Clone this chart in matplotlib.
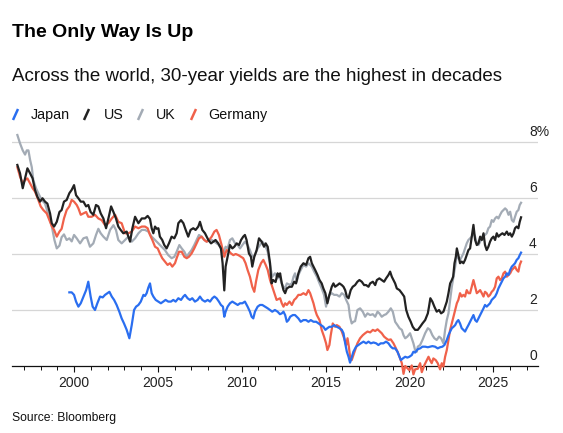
import matplotlib
matplotlib.use("Agg")
import matplotlib.pyplot as plt
from matplotlib.lines import Line2D

plt.rcParams['font.family'] = ['Liberation Sans', 'DejaVu Sans']

# 30-year government bond yields (%)
japan = [
    (1999.72, 2.63), (1999.86, 2.63), (2000.00, 2.54), (2000.12, 2.30), (2000.26, 2.12),
    (2000.40, 2.24), (2000.56, 2.48), (2000.72, 2.71), (2000.85, 3.01), (2000.99, 2.48),
    (2001.11, 2.12), (2001.25, 2.00), (2001.39, 2.24), (2001.55, 2.48), (2001.71, 2.45),
    (2001.85, 2.54), (2001.99, 2.60), (2002.11, 2.65), (2002.25, 2.48), (2002.39, 2.36),
    (2002.54, 2.18), (2002.70, 1.94), (2002.84, 1.70), (2002.98, 1.52), (2003.14, 1.29),
    (2003.30, 0.99), (2003.44, 1.46), (2003.58, 2.00), (2003.70, 2.12), (2003.84, 2.18),
    (2003.98, 2.30), (2004.14, 2.54), (2004.23, 2.50), (2004.33, 2.60), (2004.43, 2.80),
    (2004.53, 2.95), (2004.63, 2.60), (2004.73, 2.48), (2004.87, 2.36), (2005.03, 2.30),
    (2005.18, 2.24), (2005.32, 2.30), (2005.46, 2.36), (2005.62, 2.30), (2005.78, 2.30),
    (2005.92, 2.36), (2006.06, 2.30), (2006.22, 2.42), (2006.38, 2.36), (2006.52, 2.48),
    (2006.62, 2.54), (2006.77, 2.42), (2006.91, 2.36), (2007.05, 2.42), (2007.21, 2.30),
    (2007.37, 2.36), (2007.51, 2.48), (2007.65, 2.36), (2007.81, 2.30), (2007.97, 2.36),
    (2008.11, 2.30), (2008.25, 2.42), (2008.37, 2.48), (2008.50, 2.42), (2008.64, 2.30),
    (2008.76, 2.18), (2008.88, 2.12), (2008.96, 1.76), (2009.04, 1.94), (2009.16, 2.12),
    (2009.30, 2.24), (2009.44, 2.30), (2009.60, 2.24), (2009.76, 2.18), (2009.90, 2.24),
    (2010.04, 2.24), (2010.19, 2.30), (2010.35, 2.12), (2010.49, 1.94), (2010.59, 1.76),
    (2010.69, 1.70), (2010.79, 1.94), (2010.95, 2.12), (2011.09, 2.18), (2011.23, 2.18),
    (2011.39, 2.12), (2011.55, 2.06), (2011.69, 2.00), (2011.82, 1.94), (2011.98, 2.00),
    (2012.14, 1.94), (2012.28, 1.85), (2012.39, 1.88), (2012.49, 1.94), (2012.59, 1.82),
    (2012.69, 1.58), (2012.79, 1.64), (2012.89, 1.76), (2013.05, 1.82), (2013.18, 1.82),
    (2013.28, 1.76), (2013.38, 1.70), (2013.52, 1.58), (2013.68, 1.64), (2013.84, 1.64),
    (2013.98, 1.58), (2014.12, 1.64), (2014.28, 1.58), (2014.44, 1.58), (2014.58, 1.52),
    (2014.72, 1.46), (2014.87, 1.40), (2014.99, 1.29), (2015.11, 1.35), (2015.23, 1.40),
    (2015.37, 1.40), (2015.51, 1.46), (2015.67, 1.40), (2015.83, 1.35), (2015.97, 1.29),
    (2016.07, 1.17), (2016.17, 0.81), (2016.27, 0.51), (2016.37, 0.33), (2016.46, 0.12),
    (2016.54, 0.27), (2016.66, 0.51), (2016.82, 0.69), (2016.96, 0.75), (2017.10, 0.81),
    (2017.26, 0.87), (2017.42, 0.81), (2017.56, 0.87), (2017.70, 0.81), (2017.86, 0.84),
    (2018.02, 0.81), (2018.15, 0.75), (2018.29, 0.81), (2018.45, 0.81), (2018.61, 0.87),
    (2018.75, 0.81), (2018.89, 0.69), (2019.01, 0.63), (2019.15, 0.63), (2019.29, 0.51),
    (2019.41, 0.33), (2019.49, 0.21), (2019.61, 0.27), (2019.75, 0.33), (2019.88, 0.30),
    (2020.00, 0.33), (2020.14, 0.39), (2020.24, 0.51), (2020.34, 0.48), (2020.50, 0.60),
    (2020.64, 0.63), (2020.78, 0.69), (2020.94, 0.69), (2021.10, 0.67), (2021.23, 0.69),
    (2021.37, 0.71), (2021.53, 0.69), (2021.69, 0.63), (2021.83, 0.67), (2021.97, 0.69),
    (2022.09, 0.75), (2022.23, 0.93), (2022.33, 1.10), (2022.43, 1.23), (2022.53, 1.35),
    (2022.63, 1.40), (2022.73, 1.46), (2022.83, 1.58), (2022.92, 1.64), (2023.02, 1.52),
    (2023.12, 1.35), (2023.22, 1.29), (2023.32, 1.23), (2023.42, 1.35), (2023.52, 1.46),
    (2023.62, 1.58), (2023.72, 1.70), (2023.82, 1.82), (2023.92, 1.64), (2024.02, 1.58),
    (2024.12, 1.70), (2024.22, 1.82), (2024.32, 1.94), (2024.42, 2.06), (2024.51, 2.18),
    (2024.61, 2.12), (2024.71, 2.18), (2024.81, 2.24), (2024.91, 2.36), (2025.01, 2.42),
    (2025.11, 2.48), (2025.21, 2.60), (2025.31, 2.77), (2025.41, 2.89), (2025.51, 3.01),
    (2025.61, 3.13), (2025.71, 3.19), (2025.81, 3.31), (2025.91, 3.25), (2026.01, 3.43),
    (2026.11, 3.55), (2026.21, 3.61), (2026.30, 3.67), (2026.40, 3.79), (2026.50, 3.85),
    (2026.58, 3.96), (2026.66, 4.05),
]

us = [
    (1996.62, 7.18), (1996.78, 6.88), (1996.94, 6.35), (1997.08, 6.70), (1997.22, 7.06),
    (1997.38, 6.88), (1997.53, 6.70), (1997.67, 6.29), (1997.81, 6.05), (1997.97, 5.87),
    (1998.12, 5.99), (1998.27, 5.87), (1998.41, 5.80), (1998.57, 5.45), (1998.67, 5.10),
    (1998.81, 4.98), (1998.97, 5.15), (1999.13, 5.50), (1999.26, 5.57), (1999.40, 5.87),
    (1999.56, 5.93), (1999.72, 6.17), (1999.86, 6.29), (2000.00, 6.46), (2000.12, 6.10),
    (2000.26, 5.99), (2000.40, 5.87), (2000.56, 5.87), (2000.72, 5.70), (2000.85, 5.75),
    (2000.99, 5.50), (2001.15, 5.40), (2001.31, 5.75), (2001.45, 5.70), (2001.59, 5.45),
    (2001.75, 5.27), (2001.91, 4.92), (2002.05, 5.27), (2002.21, 5.70), (2002.35, 5.50),
    (2002.50, 5.27), (2002.64, 4.98), (2002.78, 4.86), (2002.94, 4.74), (2003.14, 4.80),
    (2003.34, 4.44), (2003.48, 4.92), (2003.64, 5.33), (2003.84, 5.10), (2004.04, 5.27),
    (2004.23, 5.27), (2004.39, 5.36), (2004.53, 5.25), (2004.63, 4.92), (2004.73, 4.74),
    (2004.83, 4.98), (2004.93, 4.90), (2005.03, 4.92), (2005.12, 4.62), (2005.26, 4.50),
    (2005.38, 4.32), (2005.52, 4.20), (2005.66, 4.38), (2005.82, 4.62), (2005.98, 4.56),
    (2006.12, 4.74), (2006.22, 5.10), (2006.38, 5.21), (2006.52, 5.10), (2006.66, 4.86),
    (2006.81, 4.62), (2006.95, 4.86), (2007.11, 4.92), (2007.25, 4.86), (2007.41, 4.98),
    (2007.51, 5.15), (2007.65, 4.86), (2007.81, 4.74), (2008.01, 4.50), (2008.17, 4.38),
    (2008.31, 4.44), (2008.44, 4.50), (2008.60, 4.38), (2008.76, 4.20), (2008.86, 3.67),
    (2008.96, 2.70), (2009.04, 3.55), (2009.16, 3.90), (2009.30, 4.32), (2009.44, 4.20),
    (2009.56, 4.26), (2009.70, 4.38), (2009.84, 4.32), (2009.96, 4.50), (2010.09, 4.62),
    (2010.19, 4.68), (2010.29, 4.50), (2010.43, 4.02), (2010.55, 3.90), (2010.63, 3.55),
    (2010.75, 3.90), (2010.89, 4.14), (2011.03, 4.56), (2011.19, 4.44), (2011.33, 4.26),
    (2011.43, 4.38), (2011.55, 4.26), (2011.69, 3.67), (2011.78, 2.95), (2011.88, 3.07),
    (2012.02, 3.00), (2012.14, 3.31), (2012.22, 3.19), (2012.29, 3.31), (2012.39, 2.95),
    (2012.49, 2.71), (2012.59, 2.60), (2012.69, 2.77), (2012.85, 2.83), (2012.99, 2.83),
    (2013.13, 3.01), (2013.24, 2.95), (2013.38, 3.31), (2013.52, 3.55), (2013.68, 3.67),
    (2013.84, 3.61), (2013.98, 3.85), (2014.08, 3.90), (2014.18, 3.67), (2014.28, 3.55),
    (2014.38, 3.43), (2014.52, 3.25), (2014.64, 3.07), (2014.77, 2.95), (2014.87, 2.77),
    (2014.99, 2.60), (2015.11, 2.24), (2015.23, 2.54), (2015.37, 2.83), (2015.47, 2.95),
    (2015.57, 2.83), (2015.71, 2.89), (2015.83, 2.95), (2015.97, 2.89), (2016.07, 2.83),
    (2016.17, 2.71), (2016.27, 2.48), (2016.37, 2.42), (2016.50, 2.71), (2016.62, 2.83),
    (2016.76, 2.89), (2016.90, 3.01), (2017.02, 3.07), (2017.16, 3.01), (2017.30, 2.89),
    (2017.42, 2.89), (2017.56, 2.83), (2017.66, 2.95), (2017.82, 3.01), (2017.96, 2.89),
    (2018.06, 3.07), (2018.21, 3.13), (2018.35, 3.07), (2018.49, 3.01), (2018.61, 3.13),
    (2018.75, 3.25), (2018.85, 3.37), (2018.95, 3.19), (2019.05, 3.07), (2019.15, 2.95),
    (2019.25, 2.77), (2019.41, 2.71), (2019.55, 2.60), (2019.69, 2.48), (2019.81, 2.00),
    (2019.94, 1.76), (2020.08, 1.58), (2020.20, 1.40), (2020.34, 1.29), (2020.50, 1.29),
    (2020.64, 1.40), (2020.78, 1.52), (2020.94, 1.64), (2021.10, 1.88), (2021.17, 2.12),
    (2021.25, 2.42), (2021.37, 2.30), (2021.49, 2.12), (2021.63, 1.94), (2021.77, 2.00),
    (2021.89, 1.88), (2022.03, 1.94), (2022.13, 2.12), (2022.23, 2.30), (2022.33, 2.60),
    (2022.43, 2.95), (2022.53, 3.07), (2022.61, 3.19), (2022.69, 3.67), (2022.77, 3.90),
    (2022.83, 4.20), (2022.92, 3.96), (2023.02, 3.67), (2023.12, 3.73), (2023.22, 3.67),
    (2023.32, 3.79), (2023.42, 3.96), (2023.52, 4.14), (2023.62, 4.20), (2023.72, 4.62),
    (2023.82, 5.04), (2023.92, 4.50), (2024.02, 4.32), (2024.12, 4.38), (2024.22, 4.62),
    (2024.32, 4.50), (2024.42, 4.74), (2024.51, 4.32), (2024.61, 4.14), (2024.71, 4.26),
    (2024.81, 4.44), (2024.91, 4.56), (2025.01, 4.62), (2025.11, 4.50), (2025.21, 4.74),
    (2025.31, 4.62), (2025.41, 4.68), (2025.55, 4.74), (2025.67, 4.68), (2025.81, 4.80),
    (2025.91, 4.68), (2026.01, 4.74), (2026.11, 4.62), (2026.21, 4.74), (2026.30, 4.92),
    (2026.40, 4.98), (2026.50, 4.92), (2026.58, 5.15), (2026.66, 5.31),
]

uk = [
    (1996.62, 8.25), (1996.78, 7.95), (1996.94, 7.70), (1997.08, 7.55), (1997.18, 7.70),
    (1997.28, 7.70), (1997.38, 7.36), (1997.48, 7.10), (1997.57, 6.64), (1997.73, 6.35),
    (1997.87, 6.17), (1998.07, 5.93), (1998.27, 5.80), (1998.47, 5.40), (1998.67, 5.00),
    (1998.83, 4.50), (1998.97, 4.20), (1999.13, 4.30), (1999.26, 4.60), (1999.40, 4.70),
    (1999.56, 4.50), (1999.72, 4.56), (1999.86, 4.45), (2000.00, 4.68), (2000.16, 4.56),
    (2000.36, 4.38), (2000.56, 4.56), (2000.76, 4.60), (2000.95, 4.26), (2001.15, 4.38),
    (2001.31, 4.68), (2001.45, 4.90), (2001.59, 4.74), (2001.75, 4.62), (2001.95, 4.50),
    (2002.15, 4.86), (2002.35, 5.03), (2002.50, 4.86), (2002.64, 4.50), (2002.84, 4.38),
    (2003.04, 4.50), (2003.24, 4.62), (2003.44, 4.44), (2003.64, 4.56), (2003.84, 4.74),
    (2004.04, 4.86), (2004.23, 4.86), (2004.43, 4.80), (2004.63, 4.62), (2004.83, 4.50),
    (2005.03, 4.38), (2005.22, 4.26), (2005.42, 4.14), (2005.62, 3.96), (2005.82, 3.85),
    (2005.98, 3.90), (2006.12, 4.08), (2006.28, 4.32), (2006.42, 4.20), (2006.58, 4.08),
    (2006.72, 3.90), (2006.85, 4.02), (2007.01, 4.14), (2007.17, 4.32), (2007.31, 4.50),
    (2007.45, 4.68), (2007.61, 4.62), (2007.77, 4.50), (2007.91, 4.44), (2008.05, 4.50),
    (2008.21, 4.50), (2008.37, 4.44), (2008.50, 4.38), (2008.64, 4.32), (2008.76, 4.20),
    (2008.90, 4.02), (2009.04, 4.26), (2009.16, 4.20), (2009.30, 4.50), (2009.44, 4.56),
    (2009.60, 4.38), (2009.76, 4.32), (2009.90, 4.20), (2010.04, 4.32), (2010.19, 4.44),
    (2010.35, 4.32), (2010.49, 4.14), (2010.63, 3.90), (2010.79, 3.96), (2010.95, 4.20),
    (2011.09, 4.32), (2011.23, 4.44), (2011.39, 4.32), (2011.55, 4.08), (2011.69, 3.60),
    (2011.82, 3.19), (2011.98, 3.31), (2012.14, 3.13), (2012.22, 3.19), (2012.29, 3.13),
    (2012.39, 2.95), (2012.49, 2.83), (2012.59, 2.77), (2012.69, 2.95), (2012.85, 2.90),
    (2012.99, 2.95), (2013.09, 3.19), (2013.18, 3.31), (2013.28, 3.01), (2013.38, 3.25),
    (2013.52, 3.43), (2013.68, 3.61), (2013.84, 3.55), (2013.98, 3.67), (2014.08, 3.61),
    (2014.18, 3.55), (2014.32, 3.37), (2014.48, 3.19), (2014.64, 2.95), (2014.77, 2.77),
    (2014.91, 2.54), (2015.03, 2.12), (2015.11, 2.36), (2015.23, 2.54), (2015.37, 2.60),
    (2015.51, 2.54), (2015.67, 2.54), (2015.83, 2.48), (2015.97, 2.60), (2016.11, 2.54),
    (2016.23, 2.36), (2016.37, 2.18), (2016.46, 1.76), (2016.56, 1.52), (2016.66, 1.58),
    (2016.76, 1.60), (2016.90, 2.00), (2017.06, 2.06), (2017.22, 1.94), (2017.36, 1.76),
    (2017.50, 1.88), (2017.66, 1.82), (2017.82, 1.85), (2017.96, 1.76), (2018.10, 1.94),
    (2018.21, 1.88), (2018.35, 1.76), (2018.49, 1.82), (2018.61, 1.85), (2018.75, 1.94),
    (2018.89, 2.06), (2019.01, 1.94), (2019.15, 1.58), (2019.29, 1.46), (2019.41, 1.35),
    (2019.55, 1.29), (2019.65, 1.10), (2019.75, 0.99), (2019.88, 1.05), (2020.04, 1.17),
    (2020.14, 0.99), (2020.24, 0.81), (2020.34, 0.57), (2020.44, 0.51), (2020.50, 0.69),
    (2020.64, 0.75), (2020.78, 0.93), (2020.94, 1.17), (2021.10, 1.35), (2021.23, 1.29),
    (2021.37, 1.10), (2021.49, 0.99), (2021.63, 0.93), (2021.77, 1.05), (2021.89, 0.99),
    (2022.03, 0.81), (2022.13, 1.29), (2022.23, 1.64), (2022.33, 1.88), (2022.43, 2.36),
    (2022.53, 2.83), (2022.63, 3.19), (2022.73, 3.55), (2022.83, 3.96), (2022.92, 3.85),
    (2023.02, 3.79), (2023.12, 3.90), (2023.22, 4.02), (2023.32, 4.20), (2023.42, 4.38),
    (2023.52, 4.50), (2023.62, 4.56), (2023.72, 4.62), (2023.82, 4.74), (2023.92, 4.62),
    (2024.02, 4.38), (2024.12, 4.32), (2024.22, 4.44), (2024.32, 4.56), (2024.42, 4.62),
    (2024.51, 4.68), (2024.61, 4.74), (2024.71, 4.92), (2024.81, 4.98), (2024.91, 5.21),
    (2025.01, 5.15), (2025.11, 5.27), (2025.21, 5.33), (2025.31, 5.27), (2025.41, 5.40),
    (2025.51, 5.51), (2025.61, 5.57), (2025.71, 5.63), (2025.81, 5.57), (2025.91, 5.40),
    (2026.01, 5.51), (2026.11, 5.21), (2026.21, 5.15), (2026.30, 5.33), (2026.40, 5.51),
    (2026.50, 5.57), (2026.58, 5.75), (2026.66, 5.83),
]

germany = [
    (1996.62, 7.10), (1996.78, 6.76), (1996.94, 6.52), (1997.08, 6.64), (1997.22, 6.70),
    (1997.38, 6.52), (1997.53, 6.35), (1997.67, 6.23), (1997.87, 5.93), (1998.01, 5.70),
    (1998.17, 5.57), (1998.37, 5.45), (1998.53, 5.21), (1998.67, 5.00), (1998.81, 4.86),
    (1998.97, 4.62), (1999.13, 4.80), (1999.26, 4.90), (1999.40, 5.27), (1999.56, 5.57),
    (1999.72, 5.70), (1999.86, 5.93), (2000.00, 5.87), (2000.16, 5.75), (2000.26, 5.63),
    (2000.40, 5.40), (2000.56, 5.45), (2000.72, 5.50), (2000.85, 5.33), (2001.05, 5.33),
    (2001.25, 5.40), (2001.45, 5.27), (2001.65, 5.21), (2001.85, 5.03), (2002.05, 5.10),
    (2002.25, 5.27), (2002.45, 5.40), (2002.64, 5.15), (2002.84, 5.10), (2003.04, 4.74),
    (2003.24, 4.74), (2003.44, 4.80), (2003.64, 4.98), (2003.84, 4.92), (2004.04, 4.98),
    (2004.23, 4.98), (2004.39, 4.92), (2004.53, 4.68), (2004.67, 4.50), (2004.83, 4.26),
    (2004.99, 4.20), (2005.12, 4.02), (2005.26, 3.85), (2005.42, 3.73), (2005.58, 3.61),
    (2005.72, 3.67), (2005.86, 3.55), (2006.02, 3.67), (2006.12, 3.85), (2006.26, 4.08),
    (2006.42, 4.08), (2006.58, 3.90), (2006.72, 3.85), (2006.85, 3.90), (2007.01, 4.02),
    (2007.17, 4.20), (2007.31, 4.38), (2007.45, 4.56), (2007.61, 4.62), (2007.77, 4.50),
    (2007.91, 4.44), (2008.05, 4.50), (2008.21, 4.62), (2008.37, 4.80), (2008.50, 4.86),
    (2008.64, 4.68), (2008.80, 4.32), (2008.96, 3.90), (2009.10, 4.14), (2009.24, 4.10),
    (2009.36, 4.02), (2009.50, 3.96), (2009.64, 4.00), (2009.80, 3.96), (2009.96, 3.90),
    (2010.09, 3.85), (2010.23, 3.67), (2010.35, 3.43), (2010.49, 3.19), (2010.63, 2.83),
    (2010.75, 2.65), (2010.85, 3.01), (2010.99, 3.43), (2011.15, 3.67), (2011.29, 3.79),
    (2011.43, 3.61), (2011.55, 3.43), (2011.69, 3.07), (2011.82, 2.83), (2011.94, 2.60),
    (2012.08, 2.36), (2012.22, 2.40), (2012.29, 2.42), (2012.39, 2.24), (2012.49, 2.12),
    (2012.59, 2.24), (2012.69, 2.18), (2012.85, 2.30), (2012.99, 2.18), (2013.13, 2.36),
    (2013.24, 2.42), (2013.38, 2.54), (2013.52, 2.54), (2013.68, 2.60), (2013.84, 2.54),
    (2013.98, 2.71), (2014.08, 2.60), (2014.18, 2.42), (2014.28, 2.24), (2014.38, 2.00),
    (2014.48, 1.82), (2014.64, 1.64), (2014.77, 1.29), (2014.91, 1.05), (2015.03, 0.81),
    (2015.11, 0.57), (2015.23, 0.75), (2015.31, 1.10), (2015.43, 1.52), (2015.57, 1.40),
    (2015.67, 1.46), (2015.83, 1.40), (2015.97, 1.23), (2016.11, 0.99), (2016.23, 0.75),
    (2016.31, 0.99), (2016.39, 0.69), (2016.46, 0.33), (2016.56, 0.21), (2016.66, 0.39),
    (2016.76, 0.57), (2016.90, 0.81), (2017.06, 0.99), (2017.22, 1.10), (2017.36, 1.17),
    (2017.50, 1.23), (2017.66, 1.20), (2017.82, 1.29), (2017.96, 1.25), (2018.10, 1.31),
    (2018.21, 1.25), (2018.35, 1.17), (2018.49, 1.05), (2018.61, 0.99), (2018.75, 0.93),
    (2018.89, 0.95), (2019.05, 0.81), (2019.15, 0.69), (2019.29, 0.51), (2019.41, 0.33),
    (2019.55, 0.10), (2019.65, -0.28), (2019.75, 0.00), (2019.88, -0.08), (2020.00, -0.15),
    (2020.14, 0.02), (2020.24, -0.30), (2020.34, -0.12), (2020.50, -0.10), (2020.64, 0.10),
    (2020.74, -0.22), (2020.90, 0.04), (2021.04, 0.21), (2021.14, 0.33), (2021.23, 0.21),
    (2021.33, 0.10), (2021.43, 0.27), (2021.57, 0.21), (2021.69, 0.10), (2021.83, -0.12),
    (2021.93, 0.10), (2022.03, -0.02), (2022.13, 0.33), (2022.23, 0.57), (2022.33, 0.93),
    (2022.43, 1.29), (2022.53, 1.52), (2022.63, 1.76), (2022.73, 2.00), (2022.83, 2.24),
    (2022.92, 2.36), (2023.02, 2.60), (2023.12, 2.48), (2023.22, 2.54), (2023.32, 2.48),
    (2023.42, 2.71), (2023.52, 2.60), (2023.62, 2.60), (2023.72, 2.83), (2023.82, 3.07),
    (2023.92, 2.83), (2024.02, 2.60), (2024.12, 2.65), (2024.22, 2.71), (2024.32, 2.60),
    (2024.42, 2.48), (2024.51, 2.65), (2024.61, 2.60), (2024.71, 2.48), (2024.81, 2.54),
    (2024.91, 2.65), (2025.01, 2.71), (2025.11, 2.83), (2025.21, 3.13), (2025.31, 3.19),
    (2025.41, 3.07), (2025.51, 3.13), (2025.61, 3.31), (2025.71, 3.37), (2025.81, 3.19),
    (2025.91, 3.25), (2026.01, 3.31), (2026.11, 3.43), (2026.21, 3.49), (2026.30, 3.55),
    (2026.40, 3.43), (2026.50, 3.37), (2026.58, 3.61), (2026.66, 3.73),
]

countries = ['Japan', 'US', 'UK', 'Germany']
colours = {'Japan': '#2a6ef0', 'US': '#222222', 'UK': '#a3abb5', 'Germany': '#f0614a'}
series = {'Japan': japan, 'US': us, 'UK': uk, 'Germany': germany}
y_ticks = [0, 2, 4, 6, 8]
y_labels = ['0', '2', '4', '6', '8%']
x_labels = [2000, 2005, 2010, 2015, 2020, 2025]

W, H = 563, 433
fig = plt.figure(figsize=(W / 100, H / 100), dpi=100)
ax = fig.add_axes([12 / W, 1 - 377.2 / H, 526 / W, 246.4 / H])

# UK drawn first, US on top
zorders = {'UK': 2, 'Germany': 3, 'Japan': 4, 'US': 5}
for c in countries:
    xs = [p[0] for p in series[c]]
    ys = [p[1] for p in series[c]]
    ax.plot(xs, ys, color=colours[c], lw=1.6, zorder=zorders[c],
            solid_joinstyle='round', clip_on=False)

ax.set_xlim(1996.30, 2027.67)
ax.set_ylim(-0.4, 8.4)

for v in y_ticks[1:]:
    ax.axhline(v, color='#d6d6d6', lw=0.9, zorder=1)
for v, lab in zip(y_ticks, y_labels):
    ax.text(0.983, v + 0.22, lab, transform=ax.get_yaxis_transform(),
            ha='left', va='baseline', fontsize=10, color='#222222')

for s in ['top', 'right', 'left']:
    ax.spines[s].set_visible(False)
ax.spines['bottom'].set_position(('data', 0))
ax.spines['bottom'].set_color('#111111')
ax.spines['bottom'].set_linewidth(0.9)
ax.set_yticks([])
ax.set_xticks(x_labels)
ax.set_xticklabels([str(y) for y in x_labels])
ax.set_xticks(list(range(1997, 2028)), minor=True)
ax.tick_params(axis='x', which='major', length=4.5, width=0.8, pad=3,
               labelsize=10, labelcolor='#222222', color='#111111')
ax.tick_params(axis='x', which='minor', length=2.6, width=0.7, color='#111111')

# header
fig.text(12 / W, 1 - 37 / H, 'The Only Way Is Up', fontsize=14, fontweight='bold',
         ha='left', va='baseline', color='#000000')
fig.text(12 / W, 1 - 81 / H, 'Across the world, 30-year yields are the highest in decades',
         fontsize=13.5, ha='left', va='baseline', color='#111111')

# legend: short coloured slashes with labels
legend_x = {'Japan': (13, 30.5), 'US': (84, 103.5), 'UK': (138, 156), 'Germany': (191, 208.5)}
for c in countries:
    sx, tx = legend_x[c]
    fig.add_artist(Line2D([sx / W, (sx + 5) / W], [1 - 120 / H, 1 - 109 / H],
                          color=colours[c], lw=1.8, solid_capstyle='butt'))
    fig.text(tx / W, 1 - 119 / H, c, fontsize=10.3, ha='left', va='baseline',
             color='#111111')

fig.text(12 / W, 1 - 421 / H, 'Source: Bloomberg', fontsize=8.7, ha='left',
         va='baseline', color='#111111')

fig.savefig('out.png', dpi=100)
